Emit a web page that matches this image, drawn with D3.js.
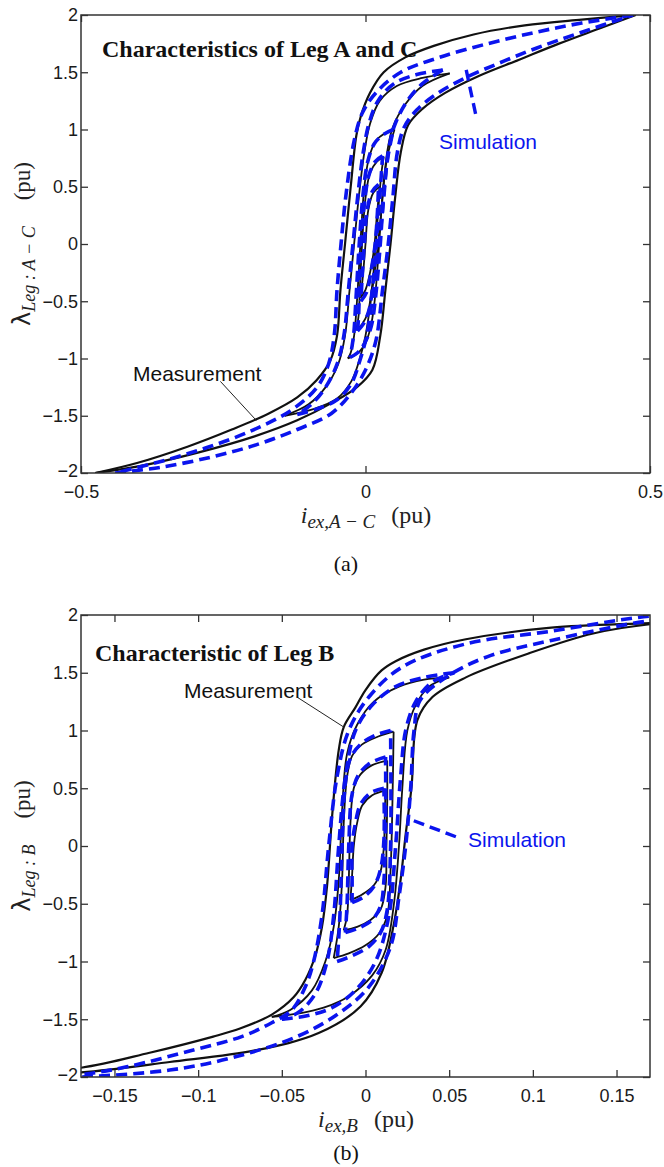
<!DOCTYPE html>
<html>
<head>
<meta charset="utf-8">
<script src="https://cdn.jsdelivr.net/npm/d3@7"></script>
<style>
  body { margin: 0; background: #fff; }
  svg { display: block; }
</style>
</head>
<body>
<svg id="fig" width="664" height="1167"></svg>
<script>
// ---- data ----
const yTicks = [-2, -1.5, -1, -0.5, 0, 0.5, 1, 1.5, 2];
const xTicksA = [-0.5, 0, 0.5];
const xTicksB = [-0.15, -0.1, -0.05, 0, 0.05, 0.1, 0.15];

// each entry is one branch [i, lambda] (descending then ascending per loop)
const measuredA = [
  // major loop
  [[0.475,2.0],[0.38,1.96],[0.28,1.91],[0.19,1.83],[0.12,1.73],[0.07,1.63],[0.032,1.5],[0.008,1.32],[-0.008,1.12],[-0.016,0.95],[-0.026,0.5],[-0.036,0.0],[-0.044,-0.4],[-0.05,-0.8],[-0.062,-1.02],[-0.086,-1.19],[-0.12,-1.34],[-0.17,-1.48],[-0.235,-1.62],[-0.313,-1.77],[-0.40,-1.91],[-0.475,-2.0]],
  [[-0.475,-2.0],[-0.397,-1.94],[-0.293,-1.82],[-0.195,-1.68],[-0.12,-1.54],[-0.06,-1.39],[-0.015,-1.25],[0.012,-1.1],[0.026,-0.8],[0.035,-0.4],[0.044,0.0],[0.052,0.4],[0.062,0.8],[0.075,1.04],[0.1,1.18],[0.14,1.32],[0.2,1.47],[0.27,1.61],[0.34,1.75],[0.41,1.88],[0.475,2.0]],
  // 1.5 loop
  [[0.148,1.49],[0.10,1.45],[0.055,1.38],[0.025,1.25],[0.008,1.05],[-0.002,0.8],[-0.012,0.4],[-0.02,0.0],[-0.028,-0.4],[-0.036,-0.8],[-0.048,-1.05],[-0.07,-1.25],[-0.10,-1.4],[-0.142,-1.5]],
  [[-0.142,-1.5],[-0.09,-1.44],[-0.05,-1.35],[-0.025,-1.2],[-0.01,-1.0],[0.0,-0.8],[0.012,-0.4],[0.022,0.0],[0.03,0.4],[0.038,0.8],[0.048,1.02],[0.07,1.22],[0.10,1.38],[0.148,1.49]],
  // 1.0 loop
  [[0.051,1.0],[0.035,0.97],[0.018,0.9],[0.006,0.75],[-0.002,0.5],[-0.009,0.0],[-0.015,-0.5],[-0.02,-0.8],[-0.026,-0.95],[-0.031,-1.0]],
  [[-0.031,-1.0],[-0.018,-0.97],[-0.004,-0.9],[0.008,-0.75],[0.016,-0.5],[0.024,0.0],[0.031,0.5],[0.038,0.75],[0.045,0.9],[0.051,1.0]],
  // 0.75 loop
  [[0.032,0.76],[0.02,0.72],[0.008,0.62],[0.0,0.4],[-0.006,0.0],[-0.01,-0.4],[-0.012,-0.62],[-0.016,-0.75]],
  [[-0.016,-0.75],[-0.006,-0.7],[0.004,-0.6],[0.012,-0.35],[0.018,0.0],[0.024,0.4],[0.028,0.62],[0.032,0.76]],
  // 0.5 loop
  [[0.025,0.5],[0.014,0.45],[0.005,0.3],[0.0,0.0],[-0.005,-0.3],[-0.009,-0.47]],
  [[-0.009,-0.47],[0.0,-0.4],[0.01,-0.2],[0.016,0.0],[0.02,0.25],[0.025,0.5]]
];

const simulatedA = [
  [[0.47,2.0],[0.38,1.93],[0.3,1.85],[0.215,1.75],[0.13,1.63],[0.062,1.5],[0.02,1.33],[-0.005,1.15],[-0.02,0.9],[-0.035,0.4],[-0.043,0.0],[-0.05,-0.4],[-0.055,-0.8],[-0.065,-1.05],[-0.085,-1.25],[-0.13,-1.45],[-0.2,-1.63],[-0.28,-1.78],[-0.36,-1.9],[-0.44,-2.0]],
  [[-0.44,-2.0],[-0.36,-1.95],[-0.27,-1.86],[-0.19,-1.75],[-0.12,-1.62],[-0.06,-1.48],[-0.025,-1.3],[0.0,-1.1],[0.018,-0.85],[0.03,-0.4],[0.04,0.0],[0.048,0.4],[0.056,0.8],[0.068,1.02],[0.09,1.17],[0.125,1.31],[0.175,1.45],[0.235,1.58],[0.3,1.71],[0.38,1.85],[0.47,2.0]],
  [[0.136,1.52],[0.09,1.48],[0.05,1.4],[0.022,1.25],[0.006,1.05],[-0.004,0.8],[-0.014,0.4],[-0.022,0.0],[-0.03,-0.4],[-0.038,-0.8],[-0.05,-1.05],[-0.07,-1.25],[-0.095,-1.4],[-0.12,-1.49]],
  [[-0.12,-1.49],[-0.085,-1.44],[-0.05,-1.36],[-0.025,-1.22],[-0.01,-1.02],[0.002,-0.8],[0.014,-0.4],[0.024,0.0],[0.032,0.4],[0.04,0.8],[0.05,1.02],[0.072,1.24],[0.1,1.4],[0.136,1.52]],
  [[0.049,1.0],[0.033,0.96],[0.016,0.88],[0.004,0.72],[-0.004,0.45],[-0.011,0.0],[-0.017,-0.5],[-0.021,-0.8],[-0.027,-0.99]],
  [[-0.027,-0.99],[-0.014,-0.95],[-0.002,-0.87],[0.01,-0.72],[0.018,-0.45],[0.026,0.0],[0.033,0.5],[0.04,0.78],[0.049,1.0]],
  [[0.03,0.77],[0.017,0.72],[0.006,0.6],[-0.002,0.35],[-0.008,0.0],[-0.011,-0.4],[-0.012,-0.62],[-0.014,-0.76]],
  [[-0.014,-0.76],[-0.004,-0.7],[0.006,-0.58],[0.013,-0.35],[0.019,0.0],[0.025,0.4],[0.028,0.62],[0.03,0.77]],
  [[0.023,0.52],[0.012,0.46],[0.003,0.3],[-0.002,0.0],[-0.006,-0.3],[-0.008,-0.5]],
  [[-0.008,-0.5],[0.002,-0.42],[0.011,-0.2],[0.017,0.0],[0.021,0.28],[0.023,0.52]]
];

const measuredB = [
  [[0.22,1.96],[0.17,1.93],[0.111,1.89],[0.06,1.79],[0.035,1.70],[0.018,1.6],[0.0096,1.52],[0.0,1.35],[-0.006,1.2],[-0.013,1.03],[-0.016,0.83],[-0.02,0.25],[-0.023,-0.35],[-0.026,-0.7],[-0.03,-0.95],[-0.036,-1.16],[-0.043,-1.31],[-0.056,-1.46],[-0.075,-1.58],[-0.091,-1.65],[-0.129,-1.79],[-0.17,-1.92],[-0.22,-1.97]],
  [[-0.22,-1.99],[-0.17,-1.96],[-0.117,-1.87],[-0.066,-1.77],[-0.028,-1.62],[-0.003,-1.39],[0.0096,-1.1],[0.017,-0.67],[0.021,-0.29],[0.024,0.1],[0.0275,0.51],[0.031,1.09],[0.04,1.29],[0.06,1.46],[0.098,1.67],[0.136,1.84],[0.17,1.92],[0.22,1.96]],
  [[0.05,1.46],[0.035,1.44],[0.02,1.38],[0.005,1.25],[-0.005,1.05],[-0.011,0.8],[-0.014,0.3],[-0.016,-0.3],[-0.019,-0.7],[-0.024,-1.0],[-0.032,-1.25],[-0.045,-1.42],[-0.056,-1.48]],
  [[-0.056,-1.48],[-0.04,-1.45],[-0.025,-1.4],[-0.01,-1.3],[0.004,-1.12],[0.012,-0.9],[0.017,-0.5],[0.02,0.0],[0.022,0.5],[0.025,1.0],[0.03,1.22],[0.038,1.38],[0.05,1.46]],
  [[0.0168,0.99],[0.008,0.95],[-0.002,0.88],[-0.008,0.78],[-0.011,0.6],[-0.013,0.2],[-0.014,-0.3],[-0.016,-0.7],[-0.019,-0.97]],
  [[-0.019,-0.97],[-0.01,-0.93],[0.0,-0.86],[0.008,-0.76],[0.013,-0.6],[0.015,-0.2],[0.016,0.3],[0.0165,0.7],[0.0168,0.99]],
  [[0.013,0.74],[0.004,0.7],[-0.003,0.62],[-0.007,0.5],[-0.009,0.2],[-0.01,-0.3],[-0.011,-0.6],[-0.013,-0.73]],
  [[-0.013,-0.73],[-0.005,-0.7],[0.003,-0.64],[0.009,-0.55],[0.012,-0.35],[0.0125,0.0],[0.013,0.4],[0.013,0.74]],
  [[0.012,0.48],[0.004,0.44],[-0.002,0.35],[-0.005,0.2],[-0.007,0.0],[-0.008,-0.25],[-0.009,-0.47]],
  [[-0.009,-0.47],[-0.002,-0.42],[0.005,-0.34],[0.009,-0.22],[0.011,0.0],[0.0115,0.25],[0.012,0.48]]
];

const simulatedB = [
  [[0.22,2.02],[0.17,1.99],[0.111,1.86],[0.06,1.75],[0.022,1.55],[0.002,1.29],[-0.01,1.0],[-0.017,0.6],[-0.022,0.0],[-0.026,-0.6],[-0.031,-1.0],[-0.036,-1.22],[-0.044,-1.42],[-0.056,-1.53],[-0.074,-1.65],[-0.104,-1.77],[-0.142,-1.91],[-0.17,-1.98],[-0.22,-2.03]],
  [[-0.22,-2.03],[-0.17,-2.0],[-0.117,-1.94],[-0.079,-1.83],[-0.041,-1.65],[-0.016,-1.45],[0.002,-1.22],[0.015,-0.87],[0.02,-0.44],[0.024,0.0],[0.027,0.5],[0.029,1.0],[0.0326,1.26],[0.048,1.46],[0.073,1.64],[0.111,1.78],[0.17,1.95],[0.22,2.0]],
  [[0.053,1.5],[0.035,1.46],[0.018,1.38],[0.004,1.22],[-0.006,1.0],[-0.012,0.6],[-0.016,0.0],[-0.019,-0.6],[-0.023,-1.0],[-0.03,-1.28],[-0.04,-1.44],[-0.05,-1.5]],
  [[-0.05,-1.5],[-0.035,-1.47],[-0.02,-1.4],[-0.006,-1.25],[0.006,-1.0],[0.014,-0.6],[0.018,0.0],[0.021,0.6],[0.024,1.0],[0.03,1.25],[0.04,1.42],[0.053,1.5]],
  [[0.015,1.0],[0.006,0.96],[-0.003,0.88],[-0.009,0.76],[-0.012,0.55],[-0.014,0.0],[-0.015,-0.5],[-0.016,-0.8],[-0.017,-1.0]],
  [[-0.017,-1.0],[-0.008,-0.95],[0.002,-0.87],[0.009,-0.75],[0.013,-0.55],[0.015,0.0],[0.0152,0.5],[0.015,1.0]],
  [[0.012,0.77],[0.003,0.72],[-0.004,0.62],[-0.008,0.45],[-0.01,0.0],[-0.011,-0.5],[-0.012,-0.75]],
  [[-0.012,-0.75],[-0.004,-0.71],[0.004,-0.64],[0.009,-0.52],[0.011,-0.3],[0.012,0.2],[0.012,0.77]],
  [[0.011,0.5],[0.003,0.46],[-0.003,0.36],[-0.006,0.2],[-0.008,0.0],[-0.008,-0.3],[-0.008,-0.49]],
  [[-0.008,-0.49],[-0.001,-0.44],[0.005,-0.35],[0.009,-0.2],[0.011,0.05],[0.011,0.5]]
];

// ---- drawing ----
const svg = d3.select('#fig');
const blue = '#0b14ee';
const fmt = d3.format('~g');
const serif = '"Liberation Serif", "Times New Roman", serif';
const sans = '"Liberation Sans", Arial, sans-serif';

function drawPanel(p) {
  const x = d3.scaleLinear().domain(p.xDomain).range([81, 650]);
  const y = d3.scaleLinear().domain([-2, 2]).range([p.bottom, p.top]);

  const g = svg.append('g');

  // clip to the axes box
  g.append('clipPath').attr('id', p.id + '-clip')
    .append('rect')
    .attr('x', x.range()[0]).attr('y', p.top)
    .attr('width', x.range()[1] - x.range()[0])
    .attr('height', p.bottom - p.top);

  const line = d3.line()
    .x(d => x(d[0]))
    .y(d => y(d[1]))
    .curve(d3.curveCatmullRom.alpha(0.5));

  const plot = g.append('g').attr('clip-path', `url(#${p.id}-clip)`);

  plot.selectAll('path.meas')
    .data(p.measured)
    .join('path')
    .attr('class', 'meas')
    .attr('d', line)
    .attr('fill', 'none')
    .attr('stroke', '#111')
    .attr('stroke-width', (d, i) => i < 2 ? 2.2 : 1.8);

  plot.selectAll('path.sim')
    .data(p.simulated)
    .join('path')
    .attr('class', 'sim')
    .attr('d', line)
    .attr('fill', 'none')
    .attr('stroke', blue)
    .attr('stroke-width', 3.6)
    .attr('stroke-dasharray', '11,6');

  // axes, ticks pointing inward on all four sides
  const tk = 7;
  const bottomAxis = d3.axisBottom(x).tickValues(p.xTicks).tickFormat(fmt)
    .tickSizeInner(-tk).tickSizeOuter(0).tickPadding(12);
  const topAxis = d3.axisTop(x).tickValues(p.xTicks).tickFormat('')
    .tickSizeInner(-tk).tickSizeOuter(0);
  const leftAxis = d3.axisLeft(y).tickValues(yTicks).tickFormat(fmt)
    .tickSizeInner(-tk).tickSizeOuter(0).tickPadding(3);
  const rightAxis = d3.axisRight(y).tickValues(yTicks).tickFormat('')
    .tickSizeInner(-tk).tickSizeOuter(0);

  const axes = [
    [bottomAxis, `translate(0,${p.bottom})`],
    [topAxis, `translate(0,${p.top})`],
    [leftAxis, `translate(${x.range()[0]},0)`],
    [rightAxis, `translate(${x.range()[1]},0)`]
  ];
  axes.forEach(([ax, tr]) => {
    const a = g.append('g').attr('transform', tr).call(ax);
    a.select('.domain').remove();
    a.selectAll('line').attr('stroke', '#333').attr('stroke-width', 1.3);
    a.selectAll('text')
      .attr('font-family', sans)
      .attr('font-size', 18)
      .attr('fill', '#1a1a1a');
  });
  // lift the lowest y label a touch so it clears the first x label
  g.selectAll('.tick text').filter(d => d === -2).attr('y', -2);

  g.append('rect')
    .attr('x', x.range()[0]).attr('y', p.top)
    .attr('width', x.range()[1] - x.range()[0])
    .attr('height', p.bottom - p.top)
    .attr('fill', 'none')
    .attr('stroke', '#333')
    .attr('stroke-width', 1.5);

  // title inside the box
  g.append('text')
    .attr('x', p.titlePos[0]).attr('y', p.titlePos[1])
    .attr('font-family', serif)
    .attr('font-weight', 'bold')
    .attr('font-size', 24)
    .attr('fill', '#111')
    .text(p.title);

  // annotations with leader lines
  p.notes.forEach(n => {
    g.append('line')
      .attr('x1', x(n.from[0])).attr('y1', y(n.from[1]))
      .attr('x2', x(n.to[0])).attr('y2', y(n.to[1]))
      .attr('stroke', n.sim ? blue : '#222')
      .attr('stroke-width', n.sim ? 3.4 : 1)
      .attr('stroke-dasharray', n.sim ? '11,6' : null);
    g.append('text')
      .attr('x', n.at[0]).attr('y', n.at[1])
      .attr('font-family', sans)
      .attr('font-size', 21)
      .attr('fill', n.sim ? blue : '#111')
      .text(n.text);
  });

  // x label: i_{sub} (pu)
  const xl = g.append('text')
    .attr('x', 366).attr('y', p.bottom + 50)
    .attr('text-anchor', 'middle')
    .attr('font-family', serif)
    .attr('fill', '#222');
  xl.append('tspan').attr('font-style', 'italic').attr('font-size', 24).text('i');
  xl.append('tspan').attr('font-style', 'italic').attr('font-size', 19).attr('dy', 5).text(p.xSub);
  xl.append('tspan').attr('font-size', 24).attr('dy', -5).attr('dx', 16).text('(pu)');

  // y label: lambda_{sub} (pu), rotated
  const yl = g.append('text')
    .attr('transform', `translate(30,${(p.top + p.bottom) / 2}) rotate(-90)`)
    .attr('text-anchor', 'middle')
    .attr('font-family', serif)
    .attr('fill', '#222');
  yl.append('tspan').attr('font-family', '"DejaVu Sans", sans-serif').attr('font-size', 24).text('λ');
  yl.append('tspan').attr('font-style', 'italic').attr('font-size', 18).attr('dy', 5).text(p.ySub);
  yl.append('tspan').attr('font-size', 23).attr('dy', -5).attr('dx', 26).text('(pu)');

  // panel caption
  g.append('text')
    .attr('x', 346).attr('y', p.captionY)
    .attr('text-anchor', 'middle')
    .attr('font-family', serif)
    .attr('font-size', 22)
    .attr('fill', '#111')
    .text(p.caption);
}

drawPanel({
  id: 'pa', top: 15, bottom: 473, xDomain: [-0.5, 0.5], xTicks: xTicksA,
  measured: measuredA, simulated: simulatedA,
  title: 'Characteristics of Leg A and C', titlePos: [102, 57],
  xSub: 'ex,A \u2212 C', ySub: 'Leg : A \u2212 C', caption: '(a)', captionY: 571,
  notes: [
    { text: 'Simulation', sim: true, at: [439, 149], from: [0.177, 1.52], to: [0.195, 1.10] },
    { text: 'Measurement', sim: false, at: [133, 381], from: [-0.255, -1.20], to: [-0.192, -1.54] }
  ]
});

drawPanel({
  id: 'pb', top: 615, bottom: 1077, xDomain: [-0.17, 0.17], xTicks: xTicksB,
  measured: measuredB, simulated: simulatedB,
  title: 'Characteristic of Leg B', titlePos: [95, 661],
  xSub: 'ex,B', ySub: 'Leg : B', caption: '(b)', captionY: 1160,
  notes: [
    { text: 'Measurement', sim: false, at: [184, 698], from: [-0.041, 1.29], to: [-0.013, 1.03] },
    { text: 'Simulation', sim: true, at: [468, 847], from: [0.054, 0.08], to: [0.025, 0.24] }
  ]
});
</script>
</body>
</html>
